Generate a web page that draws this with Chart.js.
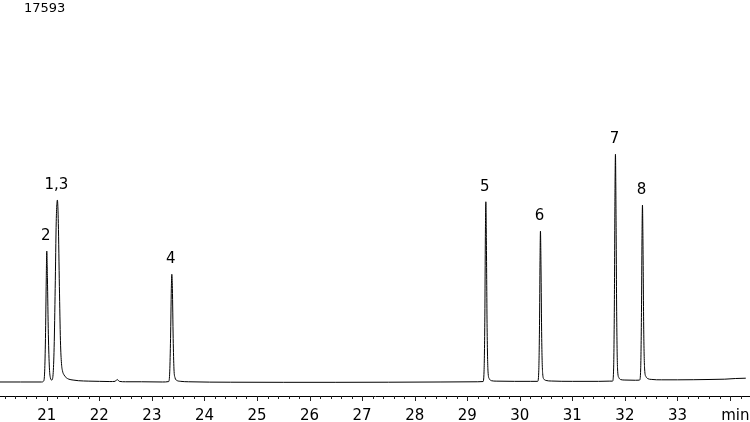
<!DOCTYPE html>
<html>
<head>
<meta charset="utf-8">
<script src="https://cdn.jsdelivr.net/npm/chart.js@4.4.1/dist/chart.umd.min.js"></script>
<style>
  html, body { margin: 0; padding: 0; background: #fff; }
  #wrap { width: 750px; height: 422px; position: relative; }
</style>
</head>
<body>
<div id="wrap"><canvas id="chrom"></canvas></div>
<script>
// retention time (min) and detector signal
const retTimes = [
  20.11, 20.50, 20.90, 20.94, 20.96, 20.975, 20.99, 21.00, 21.012, 21.03, 21.05, 21.07, 21.095,
  21.12, 21.14, 21.16, 21.18, 21.202, 21.22, 21.24, 21.26, 21.28, 21.30, 21.33, 21.37, 21.42,
  21.50, 21.60, 21.80, 22.00, 22.20, 22.30, 22.34, 22.38, 22.50, 22.80, 23.20,
  23.32, 23.34, 23.355, 23.37, 23.379, 23.39, 23.405, 23.42, 23.44, 23.47, 23.55, 23.70,
  24.50, 25.50, 26.50, 27.50, 28.50, 29.20,
  29.30, 29.32, 29.335, 29.345, 29.354, 29.364, 29.378, 29.395, 29.42, 29.46, 29.55, 29.90, 30.20,
  30.34, 30.36, 30.375, 30.385, 30.393, 30.403, 30.417, 30.435, 30.46, 30.50, 30.60, 31.00, 31.50, 31.70,
  31.765, 31.785, 31.80, 31.81, 31.82, 31.83, 31.844, 31.86, 31.885, 31.92, 32.00, 32.20, 32.27,
  32.28, 32.30, 32.315, 32.325, 32.334, 32.344, 32.358, 32.375, 32.40, 32.44, 32.50, 32.70,
  33.00, 33.30, 33.60, 33.90, 34.10, 34.30
];
const signal = [
  0, 0, 0, 40, 500, 2000, 4700, 6030, 4800, 2200, 650, 180, 90,
  350, 1600, 4300, 7400, 8380, 7300, 4400, 1900, 850, 500, 320, 200, 130,
  90, 60, 40, 30, 20, 30, 115, 30, 10, 10, 0,
  20, 500, 2000, 4300, 4960, 4300, 2000, 600, 200, 80, 30, 10,
  -10, -15, -15, -10, 0, 10,
  20, 500, 3000, 6700, 8300, 6500, 2500, 500, 150, 60, 40, 30, 30,
  30, 450, 2600, 5600, 6950, 5400, 2000, 400, 130, 70, 45, 30, 30, 40,
  40, 600, 3800, 8300, 10490, 8000, 3000, 600, 200, 110, 90, 80, 85,
  90, 600, 3200, 6600, 8150, 6300, 2400, 600, 250, 150, 120, 100,
  100, 105, 115, 130, 160, 175
];

// peak annotations
const peakNames = ['2', '1,3', '4', '5', '6', '7', '8'];
const peakTimes = [21.00, 21.202, 23.379, 29.354, 30.393, 31.82, 32.334];

// axis
const majorTicks = [21, 22, 23, 24, 25, 26, 27, 28, 29, 30, 31, 32, 33, 34];
const tickLabels = ['21', '22', '23', '24', '25', '26', '27', '28', '29', '30', '31', '32', '33', ''];
const xMin = 20.11, xMax = 34.38;
const yMax = 17593, yMin = -645;
const scaleLabel = '17593';
const unitLabel = 'min';

const minorTicks = [];
for (let i = 101; i <= 171; i++) {
  if (i % 5 !== 0) minorTicks.push(i / 5);
}

const points = retTimes.map((t, i) => ({ x: t, y: signal[i] }));

// ticks, peak labels and the corner texts
const chromDecor = {
  id: 'chromDecor',
  afterDraw(chart) {
    const ctx = chart.ctx;
    const xs = chart.scales.x;
    const ys = chart.scales.y;
    const base = chart.chartArea.bottom;
    ctx.save();
    ctx.strokeStyle = '#222';
    ctx.lineWidth = 1;
    ctx.beginPath();
    majorTicks.forEach(v => {
      const px = Math.round(xs.getPixelForValue(v)) + 0.5;
      ctx.moveTo(px, base);
      ctx.lineTo(px, base + 5);
    });
    minorTicks.forEach(v => {
      const px = Math.round(xs.getPixelForValue(v)) + 0.5;
      ctx.moveTo(px, base);
      ctx.lineTo(px, base + 3);
    });
    ctx.stroke();

    ctx.fillStyle = '#000';
    ctx.textAlign = 'center';
    ctx.textBaseline = 'alphabetic';
    ctx.font = '15px "DejaVu Sans"';
    peakNames.forEach((name, i) => {
      const idx = retTimes.indexOf(peakTimes[i]);
      const px = xs.getPixelForValue(peakTimes[i]);
      const py = ys.getPixelForValue(signal[idx]);
      ctx.fillText(name, px - 1, py - 11);
    });

    ctx.fillText(unitLabel, xs.getPixelForValue(34.1), 420);

    ctx.textAlign = 'left';
    ctx.font = '13px "DejaVu Sans"';
    ctx.fillText(scaleLabel, 24, 12);
    ctx.restore();
  }
};

new Chart(document.getElementById('chrom'), {
  type: 'line',
  data: {
    datasets: [{
      data: points,
      borderColor: '#000',
      borderWidth: 1,
      pointRadius: 0,
      cubicInterpolationMode: 'monotone',
      fill: false
    }]
  },
  options: {
    responsive: true,
    maintainAspectRatio: false,
    animation: false,
    layout: { padding: 0 },
    plugins: {
      legend: { display: false },
      tooltip: { enabled: false }
    },
    scales: {
      x: {
        type: 'linear',
        min: xMin,
        max: xMax,
        afterBuildTicks: axis => {
          axis.ticks = majorTicks.map(v => ({ value: v }));
        },
        afterFit: axis => {
          axis.height = 26;
        },
        grid: { display: false, drawTicks: false },
        border: { display: true, color: '#000', width: 1 },
        ticks: {
          autoSkip: false,
          maxRotation: 0,
          minRotation: 0,
          padding: 11,
          color: '#000',
          font: { family: 'DejaVu Sans', size: 15, lineHeight: 1.2 },
          callback: (value, index) => tickLabels[index]
        }
      },
      y: {
        display: false,
        min: yMin,
        max: yMax
      }
    }
  },
  plugins: [chromDecor]
});
</script>
</body>
</html>
